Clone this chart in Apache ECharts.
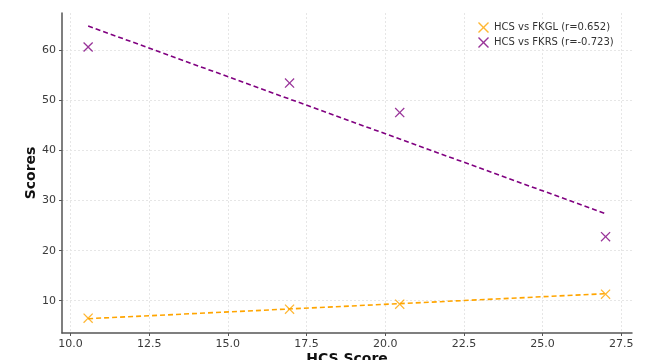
<!DOCTYPE html>
<html>
<head>
<meta charset="utf-8">
<script src="https://cdn.jsdelivr.net/npm/echarts@6/dist/echarts.min.js"></script>
<style>
  html, body { margin: 0; padding: 0; background: #fff; }
  #chart { width: 664px; height: 360px; }
</style>
</head>
<body>
<div id="chart"></div>
<script>
// ========== 数据 ==========
const hcsScores = [10.56, 16.96, 20.46, 27.0];
const fkglScores = [6.5, 8.3, 9.3, 11.3];
const fkrsScores = [60.7, 53.5, 47.6, 22.8];

// 拟合直线两端
const fitX = [10.56, 27.0];
const fkglFit = [6.4, 11.4];
const fkrsFit = [64.9, 27.4];

const xTicks = [10.0, 12.5, 15.0, 17.5, 20.0, 22.5, 25.0, 27.5];
const yTicks = [10, 20, 30, 40, 50, 60];

const fkglName = "HCS vs FKGL (r=0.652)";
const fkrsName = "HCS vs FKRS (r=-0.723)";

// X 形标记
const xMark =
  "path://M0,0.9L0.9,0L5,4.1L9.1,0L10,0.9L5.9,5L10,9.1L9.1,10L5,5.9L0.9,10L0,9.1L4.1,5Z";

function renderScatterFit() {
  const chart = echarts.init(document.getElementById("chart"));
  const font = "DejaVu Sans";

  const axisCommon = {
    nameMoveOverlap: false,
    axisLine: { show: true, lineStyle: { color: "#555", width: 1.5 } },
    axisTick: { show: true, length: 3, lineStyle: { color: "#555" } },
    axisLabel: { color: "#3a3a3a", fontSize: 11, fontFamily: font, margin: 6 },
    splitLine: {
      show: true,
      lineStyle: { color: "#e6e6e6", type: [2, 2], width: 1 },
    },
    nameTextStyle: {
      fontFamily: font,
      fontSize: 14,
      fontWeight: "bold",
      color: "#111",
    },
  };

  chart.setOption({
    animation: false,
    grid: {
      left: 62,
      right: 32,
      top: 13,
      bottom: 27,
      containLabel: false,
      outerBoundsMode: "none",
    },
    legend: {
      orient: "vertical",
      left: 473,
      top: 17,
      itemGap: 4,
      itemWidth: 11,
      itemHeight: 11,
      textStyle: { fontFamily: font, fontSize: 10, color: "#333" },
      data: [
        { name: fkglName, icon: xMark },
        { name: fkrsName, icon: xMark },
      ],
    },
    xAxis: {
      type: "value",
      min: 9.73,
      max: 27.84,
      name: "HCS Score",
      nameLocation: "middle",
      nameGap: 19,
      ...axisCommon,
      axisTick: { ...axisCommon.axisTick, customValues: xTicks },
      axisLabel: {
        ...axisCommon.axisLabel,
        customValues: xTicks,
        formatter: (v) => v.toFixed(1),
      },
    },
    yAxis: {
      type: "value",
      min: 3.54,
      max: 67.5,
      name: "Scores",
      nameLocation: "middle",
      nameGap: 24,
      ...axisCommon,
      axisTick: { ...axisCommon.axisTick, customValues: yTicks },
      axisLabel: { ...axisCommon.axisLabel, customValues: yTicks },
    },
    series: [
      {
        name: fkglName,
        type: "scatter",
        symbol: xMark,
        symbolSize: 10,
        itemStyle: { color: "#FFA500" },
        data: hcsScores.map((x, i) => [x, fkglScores[i]]),
        z: 3,
      },
      {
        name: fkrsName,
        type: "scatter",
        symbol: xMark,
        symbolSize: 10,
        itemStyle: { color: "#800080" },
        data: hcsScores.map((x, i) => [x, fkrsScores[i]]),
        z: 3,
      },
      {
        type: "line",
        showSymbol: false,
        symbol: "none",
        lineStyle: { color: "#FFA500", width: 1.6, type: [5, 3] },
        data: fitX.map((x, i) => [x, fkglFit[i]]),
        z: 2,
      },
      {
        type: "line",
        showSymbol: false,
        symbol: "none",
        lineStyle: { color: "#800080", width: 1.6, type: [5, 3] },
        data: fitX.map((x, i) => [x, fkrsFit[i]]),
        z: 2,
      },
    ],
  });

  window.addEventListener("resize", () => chart.resize());
  return chart;
}

renderScatterFit();
</script>
</body>
</html>
